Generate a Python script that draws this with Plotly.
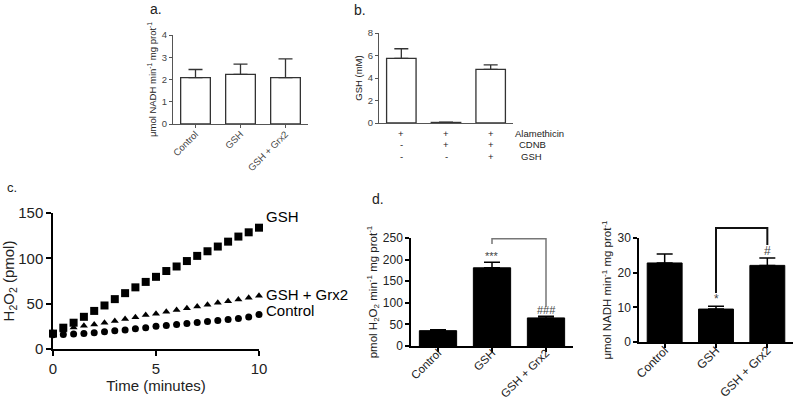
import plotly.graph_objects as go

W, H = 796, 403

# ---------------- data ----------------
cats = ["Control", "GSH", "GSH + Grx2"]

a_vals = [2.08, 2.23, 2.08]
a_err = [0.37, 0.46, 0.85]

b_cats = ["c1", "c2", "c3"]
b_vals = [5.75, 0.05, 4.77]
b_err = [0.85, 0.03, 0.39]
b_rows = ["Alamethicin", "CDNB", "GSH"]
b_signs = [["+", "+", "+"], ["-", "+", "+"], ["-", "-", "+"]]

time_min = [0, 0.5, 1, 1.5, 2, 2.5, 3, 3.5, 4, 4.5, 5, 5.5, 6, 6.5, 7, 7.5, 8, 8.5, 9, 9.5, 10]
c_gsh = [17, 23.5, 29, 35.5, 42, 48, 55, 61.6, 68, 74, 79.6, 86, 91, 97, 102.7, 107.8, 113, 118.4, 124, 128.7, 133.8]
c_grx = [18, 20.5, 23.8, 25.7, 27, 29, 31, 33, 35, 37.4, 39, 41, 43, 45, 47, 48.8, 51, 52.8, 54.6, 56.5, 58.7]
c_ctrl = [15.8, 16, 16.5, 17.2, 18, 19, 20, 21, 22.4, 23.5, 25, 26, 27, 28, 29.3, 30.4, 31.5, 32.6, 33.7, 35.2, 38]
c_labels = ["GSH", "GSH + Grx2", "Control"]

d1_vals = [35.5, 181, 65]
d1_err = [2.3, 13, 4]
d1_marks = ["", "***", "###"]
d1_bracket = [248, 236, 90]   # top, left leg end, right leg end

d2_vals = [22.8, 9.5, 22.1]
d2_err = [2.6, 0.8, 2.1]
d2_marks = ["", "*", "#"]
d2_bracket = [32.9, 14.1, 28.0]

# ---------------- layout helpers ----------------
def dx(x0, x1):
    return [x0 / W, x1 / W]

def dy(top, bottom):
    return [1 - bottom / H, 1 - top / H]

FONT = "Liberation Sans, Arial, sans-serif"
GRAY = "#555555"
DARK = "#222222"
SMALL = 9.5

dom = {
    "a": (dx(173, 308), dy(35, 124)),
    "b": (dx(379, 513), dy(33, 123)),
    "c": (dx(53, 259), dy(213, 349)),
    "d1": (dx(411, 573), dy(238, 346)),
    "d2": (dx(639, 793), dy(238, 342)),
}

fig = go.Figure()

# panel a
fig.add_trace(go.Bar(
    x=cats, y=a_vals, xaxis="x", yaxis="y", width=0.66,
    marker=dict(color="white", line=dict(color="#333333", width=1.3)),
    error_y=dict(type="data", array=a_err, arrayminus=[0] * 3, symmetric=False,
                 color="#333333", thickness=1.3, width=7),
))
# panel b
fig.add_trace(go.Bar(
    x=b_cats, y=b_vals, xaxis="x2", yaxis="y2", width=0.66,
    marker=dict(color="white", line=dict(color="#333333", width=1.3)),
    error_y=dict(type="data", array=b_err, arrayminus=[0] * 3, symmetric=False,
                 color="#333333", thickness=1.3, width=7),
))
# panel c
for ys, sym, sz in [(c_gsh, "square", 8), (c_grx, "triangle-up", 7), (c_ctrl, "circle", 7)]:
    fig.add_trace(go.Scatter(
        x=time_min, y=ys, xaxis="x3", yaxis="y3", mode="markers", cliponaxis=False,
        marker=dict(symbol=sym, size=sz, color="black"),
    ))
# panel d left
fig.add_trace(go.Bar(
    x=cats, y=d1_vals, xaxis="x4", yaxis="y4", width=0.69,
    marker=dict(color="black", line=dict(color="black", width=1)),
    error_y=dict(type="data", array=d1_err, arrayminus=[0] * 3, symmetric=False,
                 color="black", thickness=1.5, width=8),
))
# panel d right
fig.add_trace(go.Bar(
    x=cats, y=d2_vals, xaxis="x5", yaxis="y5", width=0.68,
    marker=dict(color="black", line=dict(color="black", width=1)),
    error_y=dict(type="data", array=d2_err, arrayminus=[0] * 3, symmetric=False,
                 color="black", thickness=1.5, width=8),
))

def small_axis(domain, **kw):
    d = dict(domain=domain, showline=True, linecolor=GRAY, linewidth=1, ticks="outside",
             ticklen=3, tickcolor=GRAY, tickwidth=1, showgrid=False, zeroline=False,
             automargin=False, tickfont=dict(family=FONT, size=SMALL, color="#444444"))
    d.update(kw)
    return d

def big_axis(domain, size, **kw):
    d = dict(domain=domain, showline=True, linecolor="black", linewidth=1.5, ticks="outside",
             ticklen=5, tickcolor="black", tickwidth=1.5, showgrid=False, zeroline=False,
             automargin=False, tickfont=dict(family=FONT, size=size, color=DARK))
    d.update(kw)
    return d

ylab_nadh = "μmol NADH min<sup>-1</sup> mg prot<sup>-1</sup>"

fig.update_layout(
    template="none",
    width=W, height=H, margin=dict(l=0, r=0, t=0, b=0, pad=0), autosize=False,
    font=dict(family=FONT, color=DARK),
    paper_bgcolor="white", plot_bgcolor="white", showlegend=False,
    xaxis=small_axis(dom["a"][0], anchor="y", tickangle=-45, range=[-0.5, 2.5], ticklabelstandoff=-3),
    yaxis=small_axis(dom["a"][1], anchor="x", range=[0, 4], dtick=1,
                     title=dict(text=ylab_nadh, font=dict(family=FONT, size=SMALL, color=DARK), standoff=3)),
    xaxis2=small_axis(dom["b"][0], anchor="y2", range=[-0.5, 2.5], showticklabels=False, ticks=""),
    yaxis2=small_axis(dom["b"][1], anchor="x2", range=[0, 8], dtick=2,
                      title=dict(text="GSH (mM)", font=dict(family=FONT, size=SMALL, color=DARK), standoff=3)),
    xaxis3=big_axis(dom["c"][0], 15, anchor="y3", range=[0, 10], dtick=5,
                    title=dict(text="Time (minutes)", font=dict(family=FONT, size=15, color=DARK), standoff=5)),
    yaxis3=big_axis(dom["c"][1], 15, anchor="x3", range=[0, 150], dtick=50,
                    title=dict(text="H<sub>2</sub>O<sub>2</sub> (pmol)", font=dict(family=FONT, size=15, color=DARK), standoff=5)),
    xaxis4=big_axis(dom["d1"][0], 11.5, anchor="y4", tickangle=-45, range=[-0.5, 2.5], ticklen=4,
                    ticklabelstandoff=-10),
    yaxis4=big_axis(dom["d1"][1], 12, anchor="x4", range=[0, 250], dtick=50, ticklen=4,
                    title=dict(text="pmol H<sub>2</sub>O<sub>2</sub> min<sup>-1</sup> mg prot<sup>-1</sup>",
                               font=dict(family=FONT, size=11.5, color=DARK), standoff=3)),
    xaxis5=big_axis(dom["d2"][0], 12, anchor="y5", tickangle=-45, range=[-0.5, 2.5], ticklen=4,
                    ticklabelstandoff=-9),
    yaxis5=big_axis(dom["d2"][1], 12, anchor="x5", range=[0, 30], dtick=10, ticklen=4,
                    title=dict(text=ylab_nadh, font=dict(family=FONT, size=11.5, color=DARK), standoff=3)),
)

annotations = []
# panel letters
for txt, x, y, s in [("a.", 148, 9, 14), ("b.", 352, 10, 14), ("c.", 5, 188, 13), ("d.", 370, 199, 14)]:
    annotations.append(dict(text=txt, x=x / W, y=1 - y / H, xref="paper", yref="paper",
                            xanchor="left", yanchor="middle", showarrow=False,
                            font=dict(family=FONT, size=s, color=DARK)))

# panel b table
row_y = [133, 145, 156]
for r, (name, signs) in enumerate(zip(b_rows, b_signs)):
    for c, s in enumerate(signs):
        annotations.append(dict(text=s, x=b_cats[c], xref="x2", y=1 - row_y[r] / H, yref="paper",
                                showarrow=False, xanchor="center", yanchor="middle",
                                font=dict(family=FONT, size=9.5, color=DARK)))
    annotations.append(dict(text=name, x=2.5, xref="x2", y=1 - row_y[r] / H, yref="paper",
                            xshift=[0, 4, 6][r], showarrow=False, xanchor="left", yanchor="middle",
                            font=dict(family=FONT, size=9.5, color=DARK)))

# panel c series labels
last = [c_gsh[-1], c_grx[-1], c_ctrl[-1]]
yoff = [12, 1, 4]
for lab, yv, o in zip(c_labels, last, yoff):
    annotations.append(dict(text=lab, x=time_min[-1], y=yv + o, xref="x3", yref="y3",
                            xanchor="left", yanchor="middle", xshift=5, showarrow=False,
                            font=dict(family=FONT, size=15, color="black")))

# significance marks
for i, m in enumerate(d1_marks):
    if m:
        annotations.append(dict(text=m, x=cats[i], y=d1_vals[i] + d1_err[i], xref="x4", yref="y4",
                                yanchor="bottom", showarrow=False, yshift=-2,
                                font=dict(family=FONT, size=11, color="#444444")))
for i, m in enumerate(d2_marks):
    if m:
        annotations.append(dict(text=m, x=cats[i], y=d2_vals[i] + d2_err[i], xref="x5", yref="y5",
                                yanchor="bottom", showarrow=False, yshift=-2,
                                font=dict(family=FONT, size=12, color="#444444")))
fig.update_layout(annotations=annotations)

# brackets (mapped through the axis domain / range)
def px_x(d, idx):
    xd = dom[d][0]
    return xd[0] + (idx + 0.5) / 3 * (xd[1] - xd[0])

def px_y(d, v, rng):
    yd = dom[d][1]
    return yd[0] + v / rng * (yd[1] - yd[0])

shapes = []
for d, br, rng, col, wd in [("d1", d1_bracket, 250, "#777777", 1.5), ("d2", d2_bracket, 30, "#111111", 2)]:
    x1, x2 = px_x(d, 1), px_x(d, 2)
    top, lb, rb = px_y(d, br[0], rng), px_y(d, br[1], rng), px_y(d, br[2], rng)
    shapes.append(dict(type="path", xref="paper", yref="paper",
                       path=f"M {x1} {lb} L {x1} {top} L {x2} {top} L {x2} {rb}",
                       line=dict(color=col, width=wd)))
fig.update_layout(shapes=shapes)

fig.write_html("out.html", config={"displayModeBar": False},
               post_script="document.body.style.margin='0';document.body.style.overflow='hidden';")
